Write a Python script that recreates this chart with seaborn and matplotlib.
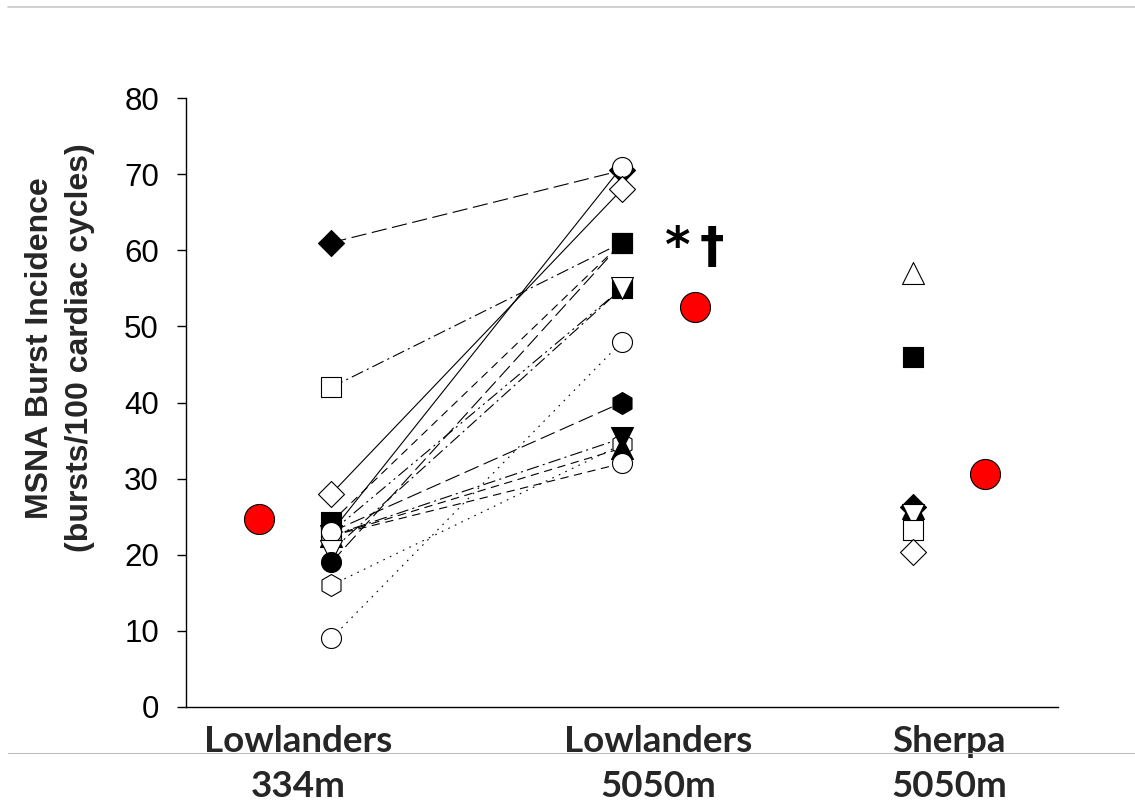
import numpy as np
import pandas as pd
import matplotlib
matplotlib.use("Agg")
import matplotlib.pyplot as plt
import seaborn as sns
from matplotlib.lines import Line2D

# ---------------- data ----------------
categories = ["Lowlanders\n334m", "Lowlanders\n5050m", "Sherpa\n5050m"]
y_ticks = [0, 10, 20, 30, 40, 50, 60, 70, 80]
y_label = "MSNA Burst Incidence\n(bursts/100 cardiac cycles)"
significance = "*\u2009\u2020"

# paired lowlander subjects (listed back-to-front)
low_marker = ["s", "s", "D", "s", "h", "h", "v", "^", "o", "o", "v", "o", "D", "o"]
low_filled = [False, True, True, True, True, False, True, True, False, False, False, True, False, False]
low_334 = [42, 24.3, 61, 23, 23, 16, 22.5, 22.5, 22.5, 23, 20.5, 19, 28, 9]
low_5050 = [61, 61, 70.5, 55, 40, 34.5, 35.3, 34, 32, 71, 55, 61, 68, 48]
low_line = ["dashdot", "dash", "longdash", "dashdotdot", "longdash", "dot", "dashdot",
            "dash", "dash", "solid", "dashdot", "longdash", "solid", "dot"]

# sherpa subjects (back-to-front)
sherpa_marker = ["D", "^", "v", "s", "D", "s", "^"]
sherpa_filled = [True, True, False, False, False, True, False]
sherpa_vals = [26.3, 26.2, 25.2, 23.2, 20.3, 46, 57]

# group means (red)
mean_vals = [24.7, 52.5, 30.6]

# ---------------- style ----------------
sns.set_theme(style="ticks")
plt.rcParams["font.family"] = ["Liberation Sans", "DejaVu Sans"]
plt.rcParams["lines.scale_dashes"] = False

dash_styles = {
    "solid": "",
    "longdash": (11, 4),
    "dash": (6, 4),
    "dashdot": (9, 3, 1.5, 3),
    "dashdotdot": (9, 3, 1.5, 3, 1.5, 3),
    "dot": (1.2, 4),
}
marker_area = {"o": 207, "s": 207, "D": 175, "^": 250, "v": 250, "h": 250}

fig = plt.figure(figsize=(11.35, 8.11), dpi=100)
ax = fig.add_axes([186 / 1135, 1 - 707 / 811, (1058 - 186) / 1135, (707 - 98) / 811])

pos_low1, pos_low2, pos_sherpa = 1, 2, 3
mean_pos = [0.75, 2.25, 3.25]

# lines
rows = []
for i, (a, b) in enumerate(zip(low_334, low_5050)):
    rows.append({"subject": f"s{i}", "x": pos_low1, "y": a})
    rows.append({"subject": f"s{i}", "x": pos_low2, "y": b})
df = pd.DataFrame(rows)
dashes = {f"s{i}": dash_styles[ls] for i, ls in enumerate(low_line)}
sns.lineplot(data=df, x="x", y="y", hue="subject", style="subject",
             palette=["black"] * len(low_334), dashes=dashes, estimator=None,
             errorbar=None, linewidth=0.8, legend=False, ax=ax, zorder=2)

# lowlander markers
z = 3
for m, f, a, b in zip(low_marker, low_filled, low_334, low_5050):
    sns.scatterplot(x=[pos_low1, pos_low2], y=[a, b], marker=m, s=marker_area[m],
                    facecolor="black" if f else "white", edgecolor="black",
                    linewidth=0.8, ax=ax, zorder=z, legend=False)
    z += 1

# sherpa markers
for m, f, v in zip(sherpa_marker, sherpa_filled, sherpa_vals):
    sns.scatterplot(x=[pos_sherpa], y=[v], marker=m, s=marker_area[m],
                    facecolor="black" if f else "white", edgecolor="black",
                    linewidth=0.8, ax=ax, zorder=z, legend=False)
    z += 1

# means
sns.scatterplot(x=mean_pos, y=mean_vals, marker="o", s=467, color="#ff0000",
                edgecolor="black", linewidth=0.8, ax=ax, zorder=z + 1, legend=False)

ax.text(2.25, 63.4, significance, ha="center", va="top", fontsize=35,
        fontweight="bold", family=["DejaVu Sans"], color="black")

# axes
ax.set_xlim(0.5, 3.5)
ax.set_ylim(0, 80)
ax.set_yticks(y_ticks)
ax.set_yticklabels([str(t) for t in y_ticks], fontsize=22.5)
ax.tick_params(axis="y", length=6.5, width=1, pad=13, colors="black")
ax.set_xticks([0.887, 2.124, 3.125])
ax.set_xticklabels(categories, fontsize=26.5, fontweight="bold", family=["Lato", "DejaVu Sans"],
                   linespacing=1.45)
ax.tick_params(axis="x", length=0, pad=13)
ax.set_xlabel("")
ax.set_ylabel("")
for sp in ["top", "right"]:
    ax.spines[sp].set_visible(False)
for sp in ["left", "bottom"]:
    ax.spines[sp].set_color("black")
    ax.spines[sp].set_linewidth(1)

fig.text(60 / 1135, 1 - 348 / 811, y_label, rotation=90, ha="center", va="center",
         multialignment="center", fontsize=23, fontweight="bold", linespacing=1.45)

# slide separator lines
fig.add_artist(Line2D([8 / 1135, 1], [1 - 7 / 811] * 2, color="#c8c8c8", lw=1.2,
                      transform=fig.transFigure, zorder=10))
fig.add_artist(Line2D([8 / 1135, 1], [1 - 753 / 811] * 2, color="#bdbdbd", lw=0.8,
                      transform=fig.transFigure, zorder=10))

fig.savefig("out.png", dpi=100, facecolor="white")
